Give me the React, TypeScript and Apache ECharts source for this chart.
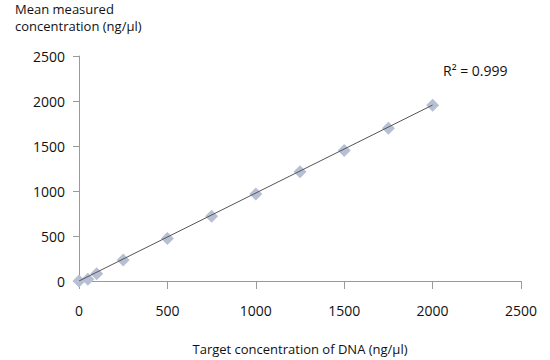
import React, { useEffect, useRef } from "react";
import * as echarts from "echarts";

const targetConc = [0, 50, 100, 250, 500, 750, 1000, 1250, 1500, 1750, 2000];
const measuredConc = [0, 20, 80, 233, 473, 720, 967, 1215, 1451, 1698, 1952];
const trendX = [0, 2000];
const trendY = [0, 1955];
const xTicks = [0, 500, 1000, 1500, 2000, 2500];
const yTicks = [0, 500, 1000, 1500, 2000, 2500];
const r2Label = "R² = 0.999";
const xAxisTitle = "Target concentration of DNA (ng/µl)";
const yAxisTitle = ["Mean measured", "concentration (ng/µl)"];

const FONT = "'Open Sans', 'DejaVu Sans', sans-serif";

export default function App() {
  const ref = useRef<HTMLDivElement>(null);
  useEffect(() => {
    if (!ref.current) return;
    const chart = echarts.init(ref.current, undefined, { renderer: "svg" });
    const axisColor = "#9a9a9a";
    chart.setOption({
      animation: false,
      backgroundColor: "#ffffff",
      textStyle: { fontFamily: FONT },
      grid: { left: 79, right: 29, top: 56, bottom: 68, containLabel: false },
      xAxis: {
        type: "value",
        min: xTicks[0],
        max: xTicks[xTicks.length - 1],
        interval: 500,
        name: xAxisTitle,
        nameLocation: "middle",
        nameGap: 61,
        nameTextStyle: { color: "#111", fontSize: 13, fontFamily: FONT },
        axisLine: { show: true, lineStyle: { color: axisColor, width: 1 } },
        axisTick: { show: true, length: 8, lineStyle: { color: axisColor } },
        axisLabel: {
          color: "#111",
          fontSize: 14,
          margin: 22,
          fontFamily: FONT,
          formatter: (v: number) => String(v),
        },
        splitLine: { show: false },
      },
      yAxis: {
        type: "value",
        min: yTicks[0],
        max: yTicks[yTicks.length - 1],
        interval: 500,
        axisLine: { show: true, lineStyle: { color: axisColor, width: 1 } },
        axisTick: { show: true, length: 6, lineStyle: { color: axisColor } },
        axisLabel: {
          color: "#111",
          fontSize: 14,
          margin: 14,
          fontFamily: FONT,
          formatter: (v: number) => String(v),
        },
        splitLine: { show: false },
      },
      graphic: [
        {
          type: "text",
          left: 15,
          top: 0,
          style: {
            text: yAxisTitle.join("\n"),
            fill: "#111",
            font: `13px ${FONT}`,
            lineHeight: 17,
          },
        },
        {
          type: "text",
          left: 443,
          top: 63,
          style: {
            text: r2Label,
            fill: "#111",
            font: `14px ${FONT}`,
          },
        },
      ],
      series: [
        {
          type: "line",
          data: trendX.map((x, i) => [x, trendY[i]]),
          symbol: "none",
          lineStyle: { color: "#555", width: 1 },
          z: 3,
        },
        {
          type: "scatter",
          data: targetConc.map((x, i) => [x, measuredConc[i]]),
          symbol: "diamond",
          symbolSize: [13, 13],
          itemStyle: { color: "#b7bfd4", opacity: 1 },
          z: 2,
        },
      ],
    });
    return () => chart.dispose();
  }, []);
  return (
    <div
      ref={ref}
      style={{ position: "fixed", left: 0, top: 0, width: 550, height: 360 }}
    />
  );
}
